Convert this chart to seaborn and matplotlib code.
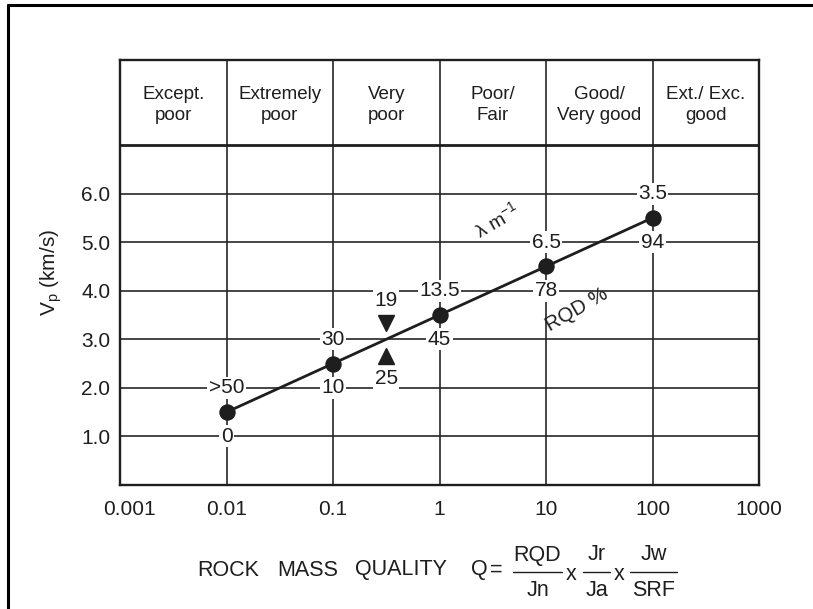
import numpy as np
import pandas as pd
import matplotlib
matplotlib.use("Agg")
import matplotlib.pyplot as plt
import matplotlib.transforms as mtransforms
from matplotlib.lines import Line2D
import seaborn as sns

# ---- data ---------------------------------------------------------------
q_values = [0.01, 0.1, 1, 10, 100]
vp_values = [1.5, 2.5, 3.5, 4.5, 5.5]
lambda_labels = [">50", "30", "13.5", "6.5", "3.5"]
rqd_labels = ["0", "10", "45", "78", "94"]

cross_q = 0.316
cross_vp = 3.0
cross_lambda = "19"
cross_rqd = "25"

class_names = ["Except.\npoor", "Extremely\npoor", "Very\npoor",
               "Poor/\nFair", "Good/\nVery good", "Ext./ Exc.\ngood"]
class_edges = [0.001, 0.01, 0.1, 1, 10, 100, 1000]

x_ticks = [0.001, 0.01, 0.1, 1, 10, 100, 1000]
x_tick_labels = ["0.001", "0.01", "0.1", "1", "10", "100", "1000"]
y_ticks = [1.0, 2.0, 3.0, 4.0, 5.0, 6.0]
y_tick_labels = ["1.0", "2.0", "3.0", "4.0", "5.0", "6.0"]

# ---- style --------------------------------------------------------------
sns.set_theme(style="white")
plt.rcParams["font.family"] = ["Liberation Sans", "DejaVu Sans"]
plt.rcParams["mathtext.fontset"] = "custom"
plt.rcParams["mathtext.rm"] = "Liberation Sans"
plt.rcParams["mathtext.it"] = "Liberation Sans:italic"

INK = "#1e1e1e"
GRID = "#262626"

W, H = 813, 609
fig = plt.figure(figsize=(W / 100, H / 100), dpi=100)
fig.patch.set_facecolor("white")


def fx(px):
    return px / W


def fy(py):
    return 1 - py / H


ax = fig.add_axes([fx(120), fy(485), fx(759) - fx(120), fy(60) - fy(485)])
ax.set_xscale("log")
ax.set_xlim(0.001, 1000)
ax.set_ylim(0, 8.75)
header_low = 7.0
header_mid = 7.83

# grid inside the chart body
for yv in y_ticks:
    ax.plot([0.001, 1000], [yv, yv], color=GRID, lw=1.2, zorder=1)
for xv in class_edges[1:-1]:
    ax.plot([xv, xv], [0, 8.75], color=GRID, lw=1.2, zorder=1)
ax.plot([0.001, 1000], [header_low, header_low], color=INK, lw=2.0, zorder=2)

# class headings
for i, name in enumerate(class_names):
    xc = np.sqrt(class_edges[i] * class_edges[i + 1])
    ax.text(xc, header_mid, name, ha="center", va="center", fontsize=13.5,
            color=INK, linespacing=1.3, zorder=3)

# velocity trend
df = pd.DataFrame({"Q": q_values, "Vp": vp_values})
sns.lineplot(data=df, x="Q", y="Vp", ax=ax, color=INK, lw=2.0, zorder=4)
sns.scatterplot(data=df, x="Q", y="Vp", ax=ax, color=INK, s=140,
                edgecolor=INK, linewidth=0, zorder=5)

box = dict(facecolor="white", edgecolor="none", pad=1.0)
lfs = 15
for q, v, lam, rqd in zip(q_values, vp_values, lambda_labels, rqd_labels):
    ax.text(q, v + 0.5, lam, ha="center", va="center", fontsize=lfs,
            color=INK, bbox=box, zorder=6)
    ax.text(q, v - 0.5, rqd, ha="center", va="center", fontsize=lfs,
            color=INK, bbox=box, zorder=6)

# crossing point at Vp = 3.0
ax.plot([cross_q], [cross_vp + 0.33], marker="v", ms=11, color=INK, zorder=6)
ax.plot([cross_q], [cross_vp - 0.34], marker="^", ms=11, color=INK, zorder=6)
ax.text(cross_q, cross_vp + 0.8, cross_lambda, ha="center", va="center",
        fontsize=lfs, color=INK, bbox=box, zorder=6)
ax.text(cross_q, cross_vp - 0.8, cross_rqd, ha="center", va="center",
        fontsize=lfs, color=INK, bbox=box, zorder=6)

ax.text(3.5, 5.45, r"$\mathregular{\lambda\ m^{-1}}$", rotation=30,
        ha="center", va="center", fontsize=14, color=INK, zorder=6)
ax.text(19.5, 3.6, "RQD %", rotation=30, ha="center", va="center",
        fontsize=14.5, color=INK, zorder=6)

# axes
ax.set_xticks(x_ticks)
ax.set_xticklabels(x_tick_labels)
ax.xaxis.set_minor_locator(matplotlib.ticker.NullLocator())
ax.set_yticks(y_ticks)
ax.set_yticklabels(y_tick_labels)
ax.tick_params(axis="both", length=0, labelsize=15, colors=INK)
ax.tick_params(axis="x", pad=11)
ax.tick_params(axis="y", pad=7)
first = ax.get_xticklabels()[0]
first.set_transform(first.get_transform() +
                    mtransforms.ScaledTranslation(9 / 100, 0, fig.dpi_scale_trans))
ax.set_xlabel("")
ax.set_ylabel(r"V$_\mathregular{p}$ (km/s)", fontsize=15, color=INK, labelpad=12)
for sp in ax.spines.values():
    sp.set_visible(True)
    sp.set_color(INK)
    sp.set_linewidth(1.7)

# formula under the axis
fs = 15.5
yc = 570
for word, x0 in [("ROCK", 197), ("MASS", 277), ("QUALITY", 355)]:
    fig.text(fx(x0), fy(yc), word, ha="left", va="center", fontsize=fs, color=INK)
fig.text(fx(479), fy(yc), "Q", ha="center", va="center", fontsize=fs, color=INK)
fig.text(fx(496), fy(yc), "=", ha="center", va="center", fontsize=fs, color=INK)
fracs = [("RQD", "Jn", 513, 562), ("Jr", "Ja", 583, 610), ("Jw", "SRF", 630, 677)]
for num, den, x0, x1 in fracs:
    xc = (x0 + x1) / 2
    fig.add_artist(Line2D([fx(x0), fx(x1)], [fy(572), fy(572)], color=INK, lw=1.0))
    fig.text(fx(xc), fy(555), num, ha="center", va="center", fontsize=fs, color=INK)
    fig.text(fx(xc), fy(590), den, ha="center", va="center", fontsize=fs, color=INK)
fig.text(fx(571), fy(574), "x", ha="center", va="center", fontsize=fs, color=INK)
fig.text(fx(619), fy(574), "x", ha="center", va="center", fontsize=fs, color=INK)

# page frame
fig.add_artist(Line2D([fx(8), fx(8)], [fy(5), fy(609)], color="black", lw=2.2))
fig.add_artist(Line2D([fx(8), fx(813)], [fy(5), fy(5)], color="black", lw=2.2))

fig.savefig("out.png", dpi=100, facecolor="white")
